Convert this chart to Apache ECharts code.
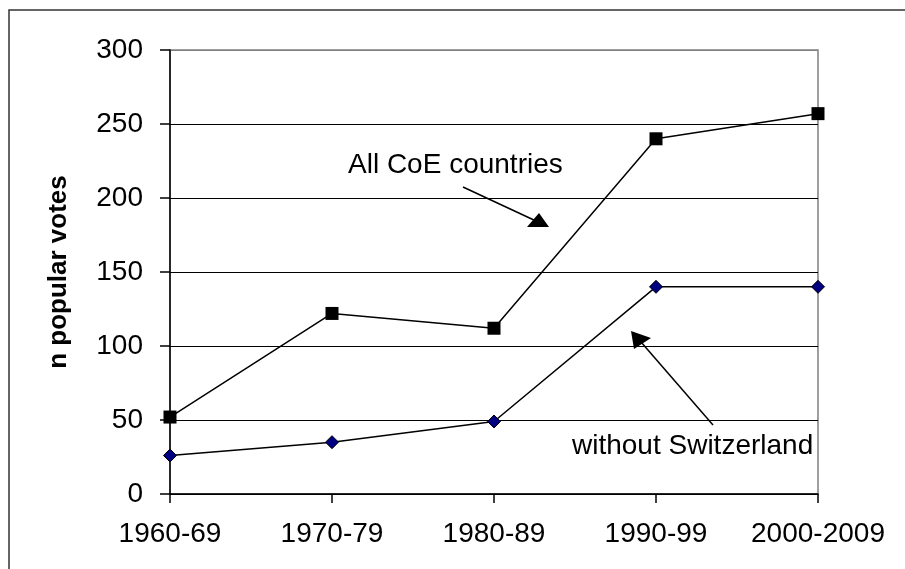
<!DOCTYPE html>
<html>
<head>
<meta charset="utf-8">
<script src="https://cdn.jsdelivr.net/npm/echarts@6/dist/echarts.min.js"></script>
<style>
html,body{margin:0;padding:0;background:#fff;}
#chart{width:905px;height:569px;}
</style>
</head>
<body>
<div id="chart"></div>
<script>
const categories = ['1960-69', '1970-79', '1980-89', '1990-99', '2000-2009'];
const allCoE = [52, 122, 112, 240, 257];
const withoutSwitzerland = [26, 35, 49, 140, 140];
const yTicks = [0, 50, 100, 150, 200, 250, 300];

const FONT = '"Liberation Sans", Arial, sans-serif';
const chart = echarts.init(document.getElementById('chart'));
chart.setOption({
  animation: false,
  backgroundColor: '#fff',
  grid: {
    left: 170, right: 87, top: 50, bottom: 75,
    show: true, borderColor: '#808080', borderWidth: 1.5, backgroundColor: 'transparent'
  },
  xAxis: {
    type: 'category',
    data: categories,
    boundaryGap: false,
    axisLine: { lineStyle: { color: '#000', width: 1.5 } },
    axisTick: { show: true, alignWithLabel: true, length: 9, inside: false, lineStyle: { color: '#000', width: 1.5 } },
    axisLabel: { color: '#000', fontSize: 28, fontFamily: FONT, margin: 26, interval: 0 },
    splitLine: { show: false }
  },
  yAxis: {
    type: 'value',
    min: yTicks[0],
    max: yTicks[yTicks.length - 1],
    interval: 50,
    name: 'n popular votes',
    nameLocation: 'middle',
    nameGap: 98,
    nameTextStyle: { color: '#000', fontSize: 26, fontWeight: 'bold', fontFamily: FONT },
    axisLine: { show: true, lineStyle: { color: '#000', width: 1.5 } },
    axisTick: { show: true, length: 10, lineStyle: { color: '#000', width: 1.5 } },
    axisLabel: { color: '#000', fontSize: 28, fontFamily: FONT, margin: 27 },
    splitLine: { show: true, lineStyle: { color: ['#000', '#000', '#000', '#000', '#000', '#000', '#808080'], width: 1 } }
  },
  series: [
    {
      name: 'All CoE countries',
      type: 'line',
      data: allCoE,
      symbol: 'rect',
      symbolSize: 13,
      itemStyle: { color: '#000' },
      lineStyle: { color: '#000', width: 1.5 }
    },
    {
      name: 'without Switzerland',
      type: 'line',
      data: withoutSwitzerland,
      symbol: 'diamond',
      symbolSize: 13,
      itemStyle: { color: '#000080', borderColor: '#000', borderWidth: 1 },
      lineStyle: { color: '#000', width: 1.5 }
    }
  ],
  graphic: [
    { type: 'rect', shape: { x: 9, y: 10, width: 920, height: 600 }, style: { fill: 'none', stroke: '#333', lineWidth: 1.5 }, silent: true },
    { type: 'text', left: 348, top: 151, style: { text: 'All CoE countries', fill: '#000', font: '28px ' + FONT } },
    { type: 'line', shape: { x1: 463, y1: 187, x2: 536, y2: 221 }, style: { stroke: '#000', lineWidth: 1.5 } },
    { type: 'polygon', shape: { points: [[539, 213], [527, 227], [549, 227]] }, style: { fill: '#000' } },
    { type: 'text', left: 572, top: 432, style: { text: 'without Switzerland', fill: '#000', font: '28px ' + FONT } },
    { type: 'line', shape: { x1: 713, y1: 425, x2: 641, y2: 342 }, style: { stroke: '#000', lineWidth: 1.5 } },
    { type: 'polygon', shape: { points: [[631, 331], [651, 338], [634, 349]] }, style: { fill: '#000' } }
  ]
});
</script>
</body>
</html>
